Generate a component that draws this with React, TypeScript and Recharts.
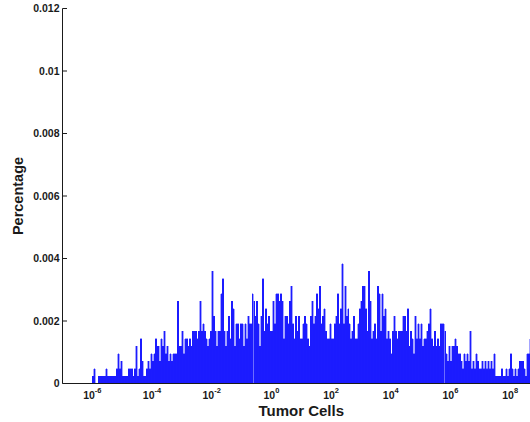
import React from "react";
import { BarChart, Bar, XAxis, YAxis } from "recharts";

// Histogram counts, 20 bins per decade, first bin edge at 10^-6.
const DEC_M6 = [1, 2, 0, 0, 1, 1, 1, 1, 1, 2, 1, 1, 1, 1, 1, 1, 2, 4, 2, 3];
const DEC_M5 = [1, 1, 1, 1, 2, 2, 2, 1, 2, 5, 1, 2, 6, 3, 1, 1, 2, 3, 2, 4];
const DEC_M4 = [3, 4, 6, 5, 5, 3, 6, 5, 7, 4, 5, 3, 4, 3, 4, 4, 4, 11, 5, 5];
const DEC_M3 = [7, 4, 6, 6, 5, 6, 5, 7, 7, 7, 6, 7, 11, 7, 8, 7, 6, 5, 6, 7];
const DEC_M2 = [15, 9, 7, 5, 7, 7, 12, 14, 7, 5, 7, 9, 6, 11, 10, 5, 8, 8, 6, 8];
const DEC_M1 = [8, 5, 8, 6, 9, 8, 8, 12, 11, 9, 11, 8, 5, 9, 14, 7, 10, 8, 9, 7];
const DEC_0 = [7, 11, 8, 12, 12, 11, 12, 11, 6, 9, 9, 8, 11, 13, 8, 6, 9, 7, 9, 6];
const DEC_1 = [6, 8, 9, 8, 6, 5, 9, 11, 8, 9, 12, 10, 13, 8, 9, 10, 7, 6, 6, 8];
const DEC_2 = [6, 6, 8, 9, 12, 8, 10, 16, 8, 13, 9, 10, 8, 6, 7, 9, 6, 6, 8, 10];
const DEC_3 = [11, 13, 13, 10, 7, 15, 11, 6, 7, 8, 6, 13, 12, 7, 12, 9, 10, 6, 7, 6];
const DEC_4 = [4, 7, 9, 7, 6, 7, 7, 7, 9, 9, 7, 10, 5, 7, 6, 4, 9, 6, 8, 6];
const DEC_5 = [8, 5, 6, 6, 7, 8, 10, 6, 5, 7, 5, 6, 5, 8, 8, 8, 7, 4, 3, 5];
const DEC_6 = [3, 5, 5, 6, 5, 4, 4, 3, 2, 4, 3, 4, 3, 7, 2, 3, 2, 4, 3, 2];
const DEC_7 = [2, 3, 2, 3, 2, 3, 2, 3, 2, 4, 1, 1, 1, 1, 2, 1, 1, 2, 1, 2];
const DEC_8 = [4, 2, 1, 2, 1, 2, 3, 3, 3, 2, 1, 4, 4, 6];

const COUNTS = [
  ...DEC_M6, ...DEC_M5, ...DEC_M4, ...DEC_M3, ...DEC_M2, ...DEC_M1, ...DEC_0,
  ...DEC_1, ...DEC_2, ...DEC_3, ...DEC_4, ...DEC_5, ...DEC_6, ...DEC_7, ...DEC_8,
];

const FIRST_EDGE = -6; // log10 of the first bin's left edge
const BINS_PER_DECADE = 20;
const SHARE_PER_COUNT = 0.00024;

const X_TICKS = [-6, -4, -2, 0, 2, 4, 6, 8];
const Y_TICKS = [0, 0.002, 0.004, 0.006, 0.008, 0.01, 0.012];

const data = COUNTS.map((c, i) => ({
  logCells: FIRST_EDGE + (i + 0.5) / BINS_PER_DECADE,
  share: c * SHARE_PER_COUNT,
}));

const INK = "#1a1a1a";
const BLUE = "#1c1cff";
const FONT = "'Liberation Sans', Arial, Helvetica, sans-serif";

const YTick = ({ x, y, payload }: any) => (
  <g>
    <line x1={x} x2={x + 4.5} y1={y} y2={y} stroke={INK} />
    <text
      x={x - 3}
      y={y + 3.8}
      textAnchor="end"
      fontFamily={FONT}
      fontWeight="bold"
      fontSize={10.5}
      fill={INK}
    >
      {String(payload.value)}
    </text>
  </g>
);

const XTick = ({ x, y, payload }: any) => (
  <text
    x={x}
    y={y + 15}
    textAnchor="middle"
    fontFamily={FONT}
    fontWeight="bold"
    fontSize={10.5}
    fill={INK}
  >
    10
    <tspan dy={-6} fontSize={7.5}>
      {String(payload.value)}
    </tspan>
  </text>
);

const YTitle = ({ viewBox }: any) => {
  const cx = viewBox.x + 23;
  const cy = viewBox.y + viewBox.height / 2;
  return (
    <text
      x={cx}
      y={cy}
      transform={`rotate(-90 ${cx} ${cy})`}
      textAnchor="middle"
      fontFamily={FONT}
      fontWeight="bold"
      fontSize={14.5}
      fill={INK}
    >
      Percentage
    </text>
  );
};

const XTitle = ({ viewBox }: any) => (
  <text
    x={viewBox.x + viewBox.width / 2}
    y={viewBox.y + 32.5}
    textAnchor="middle"
    fontFamily={FONT}
    fontWeight="bold"
    fontSize={15}
    fill={INK}
  >
    Tumor Cells
  </text>
);

export default function App() {
  return (
    <div
      style={{
        position: "absolute",
        left: 0,
        top: 0,
        width: 530,
        height: 422,
        overflow: "hidden",
        background: "#fff",
      }}
    >
      <BarChart
        width={540}
        height={422}
        data={data}
        margin={{ top: 8.5, right: 0, bottom: 0, left: 0 }}
        barCategoryGap={0}
        barGap={0}
      >
        <XAxis
          type="number"
          dataKey="logCells"
          domain={[-7, 9]}
          ticks={X_TICKS}
          interval={0}
          allowDataOverflow
          height={38.5}
          tickSize={0}
          tickMargin={0}
          tickLine={false}
          tick={XTick}
          axisLine={{ stroke: INK }}
          label={{ content: XTitle }}
        />
        <YAxis
          type="number"
          domain={[0, 0.012]}
          ticks={Y_TICKS}
          interval={0}
          allowDataOverflow
          width={62.5}
          tickSize={0}
          tickMargin={0}
          tickLine={false}
          tick={YTick}
          axisLine={{ stroke: INK }}
          label={{ content: YTitle }}
        />
        {/* bin width is 477.5/320 px; stay just under it so recharts keeps the size,
            a thin same-colour edge closes the rounding seams between bins */}
        <Bar
          dataKey="share"
          fill={BLUE}
          stroke={BLUE}
          strokeWidth={0.4}
          barSize={1.4921}
          shapeRendering="crispEdges"
          isAnimationActive={false}
        />
      </BarChart>
    </div>
  );
}
